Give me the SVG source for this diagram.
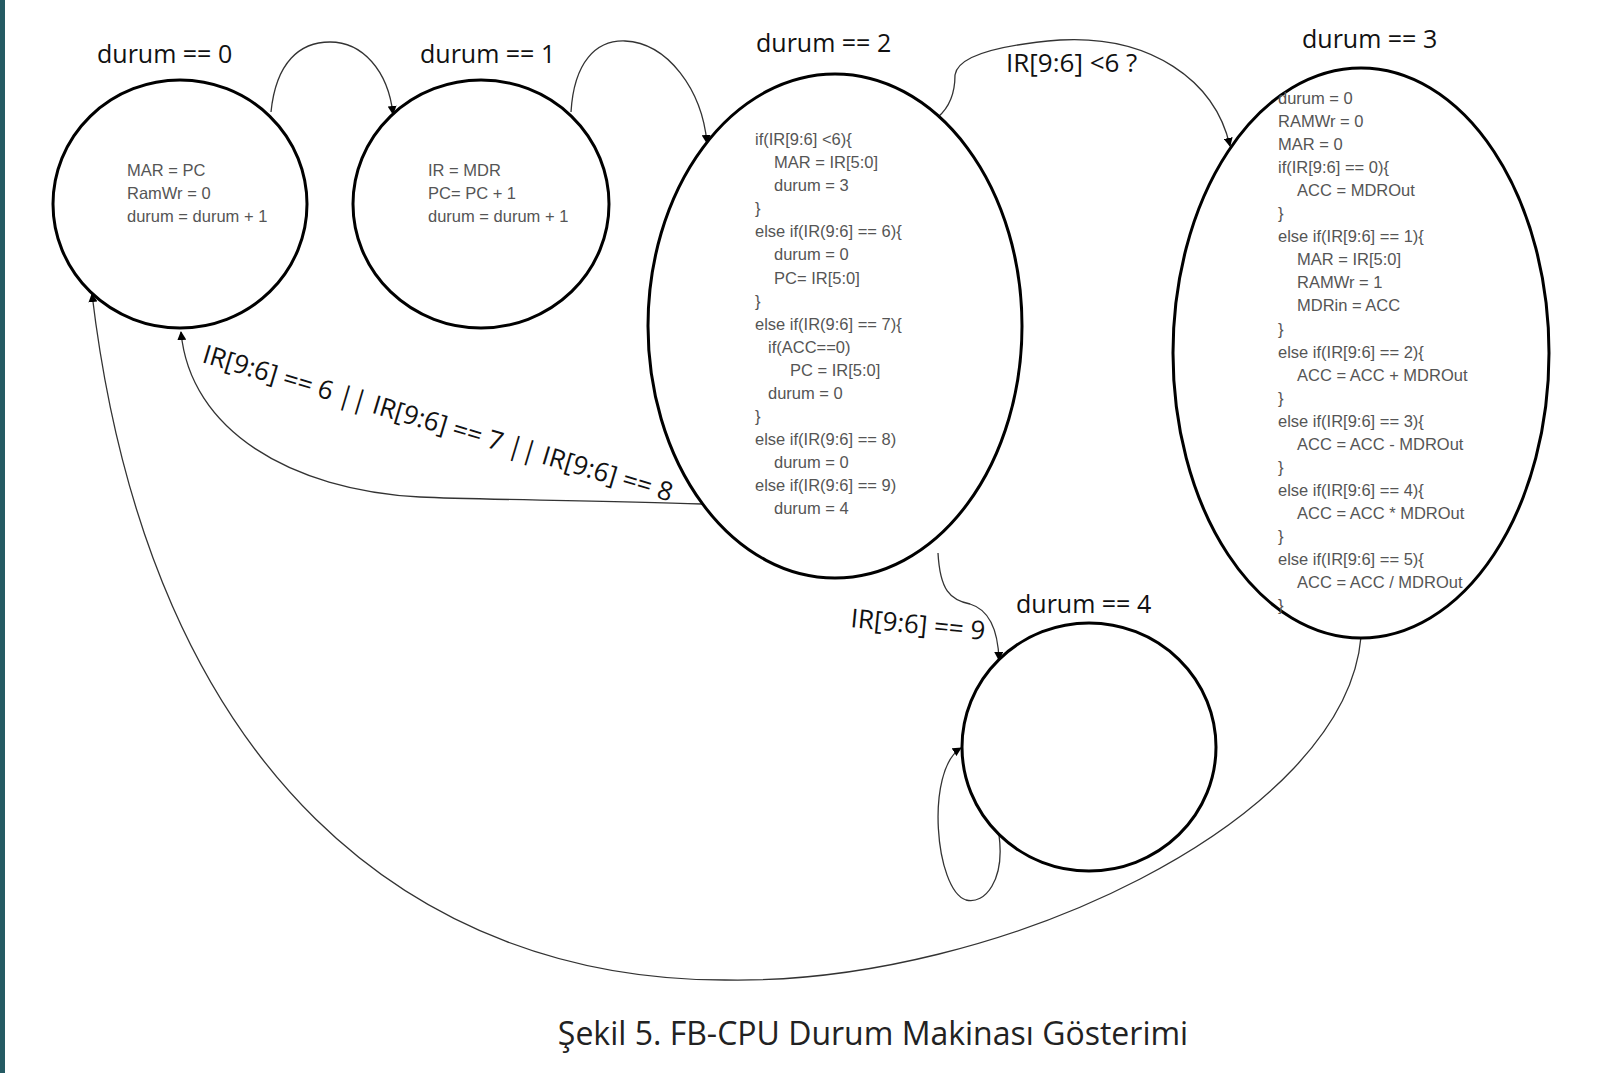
<svg xmlns="http://www.w3.org/2000/svg" width="1623" height="1073" viewBox="0 0 1623 1073">
<defs>
<style>
.state{fill:#fff;stroke:#000;stroke-width:3}
.title{font-family:"Open Sans","Liberation Sans",sans-serif;font-size:25px;fill:#111}
.code{font-family:"Liberation Sans",Arial,sans-serif;font-size:16.5px;fill:#555}
.edge{fill:none;stroke:#333;stroke-width:1.3}
.elabel{font-family:"Open Sans","Liberation Sans",sans-serif;font-size:26px;fill:#111}
.caption{font-family:"Open Sans","Liberation Sans",sans-serif;font-size:32px;fill:#222}
</style>
<marker id="arr" viewBox="0 0 10 10" refX="9" refY="5" markerWidth="9" markerHeight="9" markerUnits="userSpaceOnUse" orient="auto">
<path d="M0,0 L10,5 L0,10 z" fill="#000"/>
</marker>
</defs>
<rect x="0" y="0" width="1623" height="1073" fill="#fff"/>
<rect x="0" y="0" width="5" height="1073" fill="#245a63"/>

<g id="connectors">
<path class="edge" marker-end="url(#arr)" d="M271,112 C 276,62 300,42 330,42 C 362,42 388,70 393,114"/>
<path class="edge" marker-end="url(#arr)" d="M571,112 C 574,62 596,40 625,41 C 668,43 702,90 707,143"/>
<path class="edge" marker-end="url(#arr)" d="M938,117 C 952,105 955,90 955,75 C 958,55 1000,45 1060,40 C 1150,35 1215,80 1230,146"/>
<path class="edge" marker-end="url(#arr)" d="M702,504 C 600,500 480,500 420,497 C 290,490 190,430 181,332"/>
<path class="edge" marker-end="url(#arr)" d="M938,553 C 940,590 950,600 970,604 C 990,610 998,630 999,660"/>
<path class="edge" marker-end="url(#arr)" d="M999,835 C 1005,880 985,905 966,900 C 935,890 925,770 961,748"/>
<path class="edge" marker-end="url(#arr)" d="M1361,637 C 1345,820 1000,985 725,980 C 420,980 150,780 92,294"/>
<text class="elabel" transform="translate(1006,72)">IR[9:6] &lt;6 ?</text>
<text class="elabel" transform="translate(201,362) rotate(16.6)">IR[9:6] == 6 || IR[9:6] == 7 || IR[9:6] == 8</text>
<text class="elabel" transform="translate(850,627) rotate(5.5)">IR[9:6] == 9</text>
</g>

<g id="state0">
<ellipse class="state" cx="180" cy="204" rx="127" ry="124"/>
<text class="title" x="97" y="63">durum == 0</text>
<text class="code" x="127" y="176">MAR = PC</text>
<text class="code" x="127" y="199">RamWr = 0</text>
<text class="code" x="127" y="222">durum = durum + 1</text>
</g>

<g id="state1">
<ellipse class="state" cx="481" cy="204" rx="128" ry="124"/>
<text class="title" x="420" y="63">durum == 1</text>
<text class="code" x="428" y="176">IR = MDR</text>
<text class="code" x="428" y="199">PC= PC + 1</text>
<text class="code" x="428" y="222">durum = durum + 1</text>
</g>

<g id="state2">
<ellipse class="state" cx="835" cy="326" rx="187" ry="252"/>
<text class="title" x="756" y="52">durum == 2</text>
<text class="code" x="755" y="145">if(IR[9:6] &lt;6){</text>
<text class="code" x="774" y="168">MAR = IR[5:0]</text>
<text class="code" x="774" y="191">durum = 3</text>
<text class="code" x="755" y="214">}</text>
<text class="code" x="755" y="237">else if(IR(9:6] == 6){</text>
<text class="code" x="774" y="260">durum = 0</text>
<text class="code" x="774" y="284">PC= IR[5:0]</text>
<text class="code" x="755" y="307">}</text>
<text class="code" x="755" y="330">else if(IR(9:6] == 7){</text>
<text class="code" x="768" y="353">if(ACC==0)</text>
<text class="code" x="790" y="376">PC = IR[5:0]</text>
<text class="code" x="768" y="399">durum = 0</text>
<text class="code" x="755" y="422">}</text>
<text class="code" x="755" y="445">else if(IR(9:6] == 8)</text>
<text class="code" x="774" y="468">durum = 0</text>
<text class="code" x="755" y="491">else if(IR(9:6] == 9)</text>
<text class="code" x="774" y="514">durum = 4</text>
</g>

<g id="state3">
<ellipse class="state" cx="1361" cy="353" rx="188" ry="285"/>
<text class="title" x="1302" y="48">durum == 3</text>
<text class="code" x="1278" y="104">durum = 0</text>
<text class="code" x="1278" y="127">RAMWr = 0</text>
<text class="code" x="1278" y="150">MAR = 0</text>
<text class="code" x="1278" y="173">if(IR[9:6] == 0){</text>
<text class="code" x="1297" y="196">ACC = MDROut</text>
<text class="code" x="1278" y="219">}</text>
<text class="code" x="1278" y="242">else if(IR[9:6] == 1){</text>
<text class="code" x="1297" y="265">MAR = IR[5:0]</text>
<text class="code" x="1297" y="288">RAMWr = 1</text>
<text class="code" x="1297" y="311">MDRin = ACC</text>
<text class="code" x="1278" y="335">}</text>
<text class="code" x="1278" y="358">else if(IR[9:6] == 2){</text>
<text class="code" x="1297" y="381">ACC = ACC + MDROut</text>
<text class="code" x="1278" y="404">}</text>
<text class="code" x="1278" y="427">else if(IR[9:6] == 3){</text>
<text class="code" x="1297" y="450">ACC = ACC - MDROut</text>
<text class="code" x="1278" y="473">}</text>
<text class="code" x="1278" y="496">else if(IR[9:6] == 4){</text>
<text class="code" x="1297" y="519">ACC = ACC * MDROut</text>
<text class="code" x="1278" y="542">}</text>
<text class="code" x="1278" y="565">else if(IR[9:6] == 5){</text>
<text class="code" x="1297" y="588">ACC = ACC / MDROut</text>
<text class="code" x="1278" y="611">}</text>
</g>

<g id="state4">
<ellipse class="state" cx="1089" cy="747" rx="127" ry="124"/>
<text class="title" x="1016" y="613">durum == 4</text>
</g>

<text class="caption" x="873" y="1045" text-anchor="middle">Şekil 5. FB-CPU Durum Makinası Gösterimi</text>
</svg>
